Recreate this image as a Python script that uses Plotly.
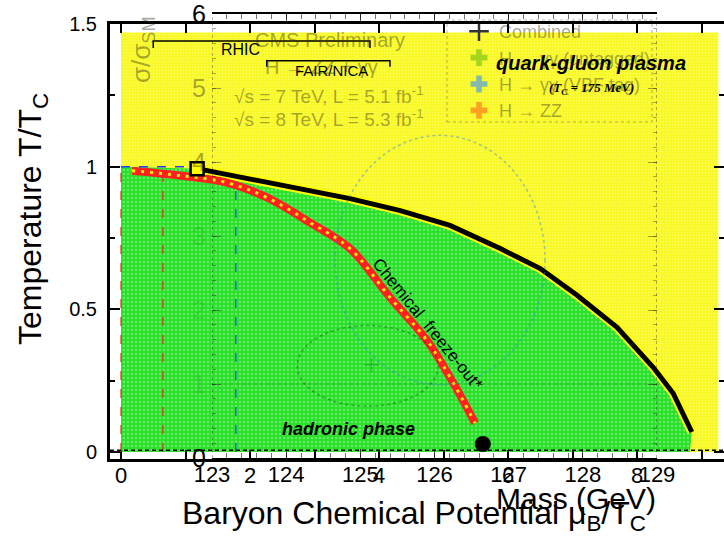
import plotly.graph_objects as go

W, H = 724, 538

# ---------------- phase diagram data (mu_B/T_C, T/T_C) ----------------
boundary_mu = [1.18, 2.00, 2.78, 3.55, 4.33, 5.10, 5.88, 6.50, 7.07, 7.69, 8.25, 8.56, 8.85]
boundary_T = [0.993, 0.958, 0.923, 0.888, 0.846, 0.794, 0.713, 0.643, 0.549, 0.437, 0.297, 0.206, 0.070]

freeze_mu = [0.17, 0.91, 1.64, 2.26, 2.93, 3.55, 4.17, 4.74, 5.10, 5.30, 5.49]
freeze_T = [0.986, 0.969, 0.944, 0.892, 0.804, 0.713, 0.542, 0.392, 0.262, 0.182, 0.101]

critical_mu, critical_T = [1.18], [0.993]
nuclear_mu, nuclear_T = [5.61], [0.028]

qgp_mu_max, qgp_T_max = 9.26, 1.47
hadron_mu_edge = 8.82

mu_ticks = [0, 2, 4, 6, 8]
T_ticks = [0, 0.5, 1, 1.5]
T_ticktext = ["0", "0.5", "1", "1.5"]

# ---------------- Higgs mass scan overlay (mass GeV, sigma/sigma_SM) ----------------
mass_ticks = [123, 124, 125, 126, 127, 128, 129]
sigma_ticks = [0, 1, 2, 3, 4, 5, 6]
combined_fit = ([125.15], [1.26])

legend_names = ["Combined", "H \u2192 \u03b3\u03b3 (untagged)", "H \u2192 \u03b3\u03b3 (VBF tag)", "H \u2192 ZZ"]
legend_colors = ["rgba(0,0,0,0.8)", "rgba(130,200,20,0.7)", "rgba(80,160,225,0.7)", "rgba(255,130,30,0.75)"]
legend_symbols = ["cross-thin", "cross", "cross", "cross"]

FONT = "Liberation Sans"
FADE = "rgba(45,45,20,0.42)"

def pxx(p):
    return p / W

def pxy(p):
    return 1 - p / H

fig = go.Figure()

# quark-gluon plasma region
fig.add_trace(go.Scatter(
    x=[0, qgp_mu_max, qgp_mu_max, 0, 0], y=[0, 0, qgp_T_max, qgp_T_max, 0],
    mode="lines", line=dict(width=0), fill="toself", fillcolor="#f8f820",
    fillpattern=dict(shape=".", bgcolor="#f8f820", fgcolor="#ffff90", size=3, solidity=0.35),
    hoverinfo="skip", showlegend=False, xaxis="x", yaxis="y"))

# hadronic region
fig.add_trace(go.Scatter(
    x=[0, 0] + boundary_mu + [hadron_mu_edge, 0],
    y=[0, 1.0] + boundary_T + [0, 0],
    mode="lines", line=dict(width=0), fill="toself", fillcolor="#2ae22a",
    fillpattern=dict(shape=".", bgcolor="#2ae22a", fgcolor="#e8f0e8", size=4, solidity=0.18),
    hoverinfo="skip", showlegend=False, xaxis="x", yaxis="y"))

# phase boundary
fig.add_trace(go.Scatter(x=boundary_mu, y=boundary_T, mode="lines",
                         line=dict(color="#ffff00", width=9), hoverinfo="skip",
                         showlegend=False, xaxis="x", yaxis="y"))
fig.add_trace(go.Scatter(x=boundary_mu, y=boundary_T, mode="lines",
                         line=dict(color="black", width=5), hoverinfo="skip",
                         showlegend=False, xaxis="x", yaxis="y"))

# chemical freeze-out curve
fig.add_trace(go.Scatter(x=freeze_mu, y=freeze_T, mode="lines",
                         line=dict(color="#ff2020", width=8, shape="spline"), hoverinfo="skip",
                         showlegend=False, xaxis="x", yaxis="y"))
fig.add_trace(go.Scatter(x=freeze_mu, y=freeze_T, mode="lines",
                         line=dict(color="#ffee00", width=3, dash="3px,6px", shape="spline"),
                         hoverinfo="skip", showlegend=False, xaxis="x", yaxis="y"))

# critical point and nuclear matter
fig.add_trace(go.Scatter(x=critical_mu, y=critical_T, mode="markers",
                         marker=dict(symbol="square", size=13, color="#ffff00",
                                     line=dict(color="black", width=2.5)),
                         hoverinfo="skip", showlegend=False, xaxis="x", yaxis="y"))
fig.add_trace(go.Scatter(x=nuclear_mu, y=nuclear_T, mode="markers",
                         marker=dict(symbol="circle", size=16, color="black"),
                         hoverinfo="skip", showlegend=False, xaxis="x", yaxis="y"))

# Higgs scan best-fit point (faint) and legend entries
fig.add_trace(go.Scatter(x=combined_fit[0], y=combined_fit[1], mode="markers", showlegend=False,
                         marker=dict(symbol="cross-thin", size=10,
                                     line=dict(color="rgba(0,0,0,0.2)", width=1.5)),
                         hoverinfo="skip", xaxis="x2", yaxis="y2"))
for name, col, sym in zip(legend_names, legend_colors, legend_symbols):
    mk = dict(symbol=sym, size=14, color=col)
    if sym == "cross-thin":
        mk = dict(symbol=sym, size=14, line=dict(color=col, width=2.5))
    fig.add_trace(go.Scatter(x=[None], y=[None], mode="markers", name=name, marker=mk,
                             hoverinfo="skip", xaxis="x2", yaxis="y2"))

shapes = [
    # reference lines inside the hadronic phase
    dict(type="line", xref="x", yref="y", x0=0, x1=1.1, y0=1.0, y1=1.0,
         line=dict(color="#2040ff", width=1.5, dash="dash"), layer="above"),
    dict(type="line", xref="x", yref="y", x0=0.0, x1=0.0, y0=0, y1=0.99,
         line=dict(color="#e03020", width=1.2, dash="dash"), layer="above"),
    dict(type="line", xref="x", yref="y", x0=0.65, x1=0.65, y0=0, y1=0.965,
         line=dict(color="#e03020", width=1.2, dash="dash"), layer="above"),
    dict(type="line", xref="x", yref="y", x0=1.78, x1=1.78, y0=0, y1=0.94,
         line=dict(color="#2040ff", width=1.2, dash="dash"), layer="above"),
    dict(type="line", xref="x", yref="y", x0=-0.17, x1=9.35, y0=0.006, y1=0.006,
         line=dict(color="black", width=1.5, dash="4px,3px"), layer="above"),
    # RHIC and FAIR/NICA brackets
    dict(type="path", xref="x", yref="y", path="M 0.50 1.416 L 0.50 1.44 L 3.86 1.44 L 3.86 1.416",
         line=dict(color="black", width=1.5), layer="above"),
    dict(type="path", xref="x", yref="y", path="M 2.26 1.35 L 2.26 1.371 L 4.17 1.371 L 4.17 1.35",
         line=dict(color="black", width=1.5), layer="above"),
    # Higgs scan frame, SM line and likelihood contours
    dict(type="line", xref="x2", yref="y2", x0=123, x1=123, y0=0, y1=6,
         line=dict(color="rgba(20,20,20,0.55)", width=1.2, dash="dot"), layer="above"),
    dict(type="line", xref="x2", yref="y2", x0=129, x1=129, y0=0, y1=6,
         line=dict(color="rgba(20,20,20,0.55)", width=1.2, dash="dot"), layer="above"),
    dict(type="line", xref="x2", yref="y2", x0=123, x1=129, y0=1, y1=1,
         line=dict(color="rgba(20,20,20,0.22)", width=1.2, dash="dot"), layer="above"),
    dict(type="circle", xref="x2", yref="y2", x0=124.66, x1=127.49, y0=0.99, y1=4.36,
         line=dict(color="rgba(50,130,220,0.45)", width=1.5, dash="dot"), layer="above"),
    dict(type="circle", xref="x2", yref="y2", x0=124.15, x1=126.05, y0=0.70, y1=1.79,
         line=dict(color="rgba(0,0,0,0.28)", width=1.5, dash="dot"), layer="above"),
    # legend frame
    dict(type="rect", xref="paper", yref="paper", x0=pxx(447), x1=pxx(652), y0=pxy(122), y1=pxy(20),
         line=dict(color="rgba(40,40,40,0.35)", width=1, dash="dot"), layer="above"),
]

ann = []

def add_text(text, x, y, size, color="black", xref="x", yref="y", angle=0, family=FONT):
    ann.append(dict(text=text, x=x, y=y, xref=xref, yref=yref, showarrow=False, textangle=angle,
                    font=dict(family=family, size=size, color=color), xanchor="center",
                    yanchor="middle"))

# Higgs scan texts (faded)
add_text("CMS Preliminary", 124.59, 5.65, 20, FADE, "x2", "y2")
add_text("H \u2192 ZZ + \u03b3\u03b3", 124.48, 5.28, 20, FADE, "x2", "y2")
add_text("\u221As = 7 TeV, L = 5.1 fb<sup>-1</sup>", 124.58, 4.91, 19, FADE, "x2", "y2")
add_text("\u221As = 8 TeV, L = 5.3 fb<sup>-1</sup>", 124.58, 4.59, 19, FADE, "x2", "y2")
add_text("\u03c3/\u03c3<sub>SM</sub>", pxx(143), pxy(50), 26, FADE, "paper", "paper", angle=-90)
for s in sigma_ticks:
    if s in (0, 6):
        col = "black"
    elif s >= 4:
        col = FADE
    else:
        col = "rgba(20,80,20,0.12)"
    add_text(str(s), pxx(199), s, 25, col, "paper", "y2")

# phase diagram texts
add_text("<b><i>quark-gluon plasma</i></b>", 7.29, 1.364, 20)
add_text("<b><i>(T<sub>C</sub> = 175 MeV)</i></b>", 7.29, 1.273, 13, family="Liberation Serif")
add_text("<b><i>hadronic phase</i></b>", 3.52, 0.080, 18)
add_text("Chemical  freeze-out*", 4.76, 0.448, 17, angle=51)
add_text("RHIC", 1.845, 1.409, 16)
add_text("FAIR/NICA", 3.27, 1.336, 15)

# axis titles
add_text("Temperature T/T<sub>C</sub>", pxx(32), pxy(219), 32, "black", "paper", "paper", angle=-90)
add_text("Baryon Chemical Potential \u03bc<sub>B</sub>/T<sub>C</sub>", pxx(414), pxy(515), 32,
         "black", "paper", "paper")
add_text("Mass (GeV)", pxx(576), pxy(498), 30, "black", "paper", "paper")

mu_lo, mu_hi = (110 - 121) / 64.5, (724 - 121) / 64.5
T_lo, T_hi = (452 - 459) / 285.33, 1.5

fig.update_layout(
    width=W, height=H,
    margin=dict(l=0, r=0, t=0, b=0, autoexpand=False),
    paper_bgcolor="white", plot_bgcolor="rgba(0,0,0,0)",
    font=dict(family=FONT, color="black"),
    xaxis=dict(domain=[110 / W, 1.0], range=[mu_lo, mu_hi], anchor="y",
               tickvals=mu_ticks, ticks="inside", ticklen=9, tickwidth=1.5, tickcolor="black",
               minor=dict(dtick=1, tick0=0, ticks="inside", ticklen=9, tickwidth=1.5, tickcolor="black"),
               showline=True, linewidth=3, linecolor="black", mirror="ticks",
               showgrid=False, zeroline=False, tickfont=dict(size=22), ticklabelstandoff=-5),
    yaxis=dict(domain=[1 - 459 / H, 1 - 24 / H], range=[T_lo, T_hi], anchor="x",
               tickvals=T_ticks, ticktext=T_ticktext, ticks="inside", ticklen=10, tickwidth=1.5,
               tickcolor="black",
               minor=dict(dtick=0.25, tick0=0, ticks="inside", ticklen=5, tickwidth=1.5, tickcolor="black"),
               showline=True, linewidth=3, linecolor="black", mirror="ticks",
               showgrid=False, zeroline=False, tickfont=dict(size=20), ticklabelstandoff=6),
    xaxis2=dict(domain=[212 / W, 657 / W], range=[123, 129], anchor="y2",
                tickvals=mass_ticks, ticks="inside", ticklen=9, tickwidth=1, tickcolor="rgba(0,0,0,0.7)",
                minor=dict(dtick=0.2, tick0=123, ticks="inside", ticklen=5, tickwidth=1,
                           tickcolor="rgba(0,0,0,0.55)"),
                showline=True, linewidth=2, linecolor="black", mirror="ticks",
                showgrid=False, zeroline=False, tickfont=dict(size=22), ticklabelstandoff=-4),
    yaxis2=dict(domain=[1 - 458 / H, 1 - 14 / H], range=[0, 6], anchor="x2",
                tickvals=sigma_ticks, showticklabels=False, ticks="inside", ticklen=9, tickwidth=1,
                tickcolor="rgba(20,20,20,0.4)",
                minor=dict(dtick=0.2, tick0=0, ticks="inside", ticklen=4, tickwidth=1,
                           tickcolor="rgba(20,20,20,0.35)"),
                showline=False, mirror="ticks", showgrid=False, zeroline=False),
    legend=dict(x=pxx(459), y=pxy(13), xanchor="left", yanchor="top",
                bgcolor="rgba(0,0,0,0)", borderwidth=0,
                font=dict(family=FONT, size=18, color=FADE), tracegroupgap=0),
    showlegend=True,
    shapes=shapes,
    annotations=ann,
)

fig.write_html("out.html")
